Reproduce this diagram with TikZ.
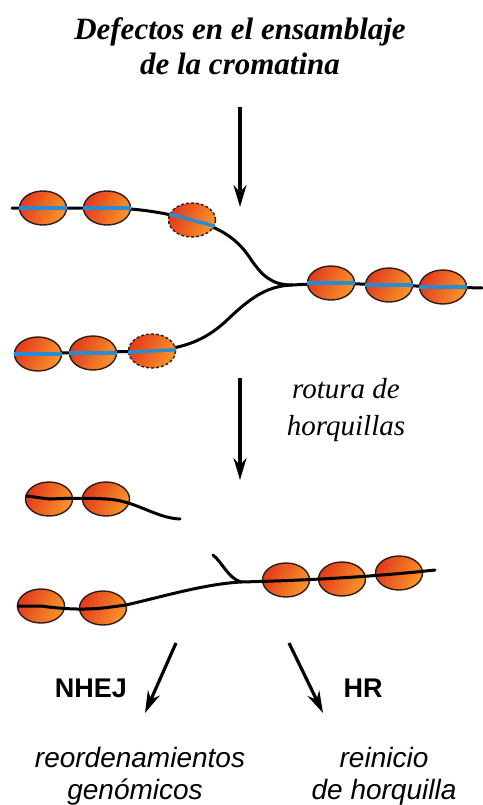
\documentclass[tikz,border=0pt]{standalone}
\usepackage{fontspec}
\setmainfont{Liberation Serif}
\setsansfont{Liberation Sans}
\usetikzlibrary{shapes.geometric,arrows.meta}

\definecolor{nucred}{RGB}{228,58,28}
\definecolor{nucorange}{RGB}{247,150,42}
\definecolor{dnablue}{RGB}{38,140,212}
\definecolor{nucedge}{RGB}{50,28,18}

\pgfdeclarelayer{strands}
\pgfsetlayers{strands,main}

\tikzset{
  nuc/.style={ellipse, draw=nucedge, line width=1.4pt, inner sep=0pt,
    minimum width=47pt, minimum height=34pt,
    left color=nucred, right color=nucorange, shading angle=65},
  nucdash/.style={nuc, dash pattern=on 3pt off 2pt},
  strand/.style={line width=3pt, black, line cap=round},
  dna/.style={line width=3.4pt, dnablue},
  flow/.style={line width=3.2pt, -{Stealth[length=22pt,width=13pt]}},
  titletext/.style={font=\fontsize{31}{36}\selectfont\bfseries\itshape, anchor=base},
  steptext/.style={font=\fontsize{29}{34}\selectfont\itshape, anchor=base},
  pathtext/.style={font=\fontsize{27}{30}\selectfont\sffamily\bfseries, anchor=base},
  outtext/.style={font=\fontsize{28}{34}\selectfont\sffamily\itshape, anchor=base},
}

\begin{document}
\begin{tikzpicture}[x=1pt,y=-1pt]
\useasboundingbox (0,0) rectangle (482,805);

% heading
\node[titletext] (t1) at (240,40) {Defectos en el ensamblaje};
\node[titletext] (t2) at (240,75) {de la cromatina};

% first step arrow
\coordinate (a1s) at (240,107);
\coordinate (a1e) at (240,207);
\draw[flow] (a1s) -- (a1e);

% ---- replication fork ----
\node[nuc]     (u1) at (43,208) {};
\node[nuc]     (u2) at (107,208) {};
\node[nucdash] (u3) at (192,220) {};
\node[nuc]     (l1) at (38,354) {};
\node[nuc]     (l2) at (93,353) {};
\node[nucdash] (l3) at (152,351) {};
\node[nuc]     (r1) at (331,283) {};
\node[nuc]     (r2) at (389,285) {};
\node[nuc]     (r3) at (443,287) {};

\coordinate (uL) at (12,208);
\coordinate (lL) at (15,354);
\coordinate (fork) at (292,285);
\coordinate (rR) at (482,288);

\begin{pgfonlayer}{strands}
  \draw[strand] (uL) -- (u2.center)
    .. controls (140,208) and (170,214) .. (u3.center)
    .. controls (222,228) and (238,240) .. (250,258)
    .. controls (262,276) and (272,285) .. (fork);
  \draw[strand] (lL) -- (l3.center)
    .. controls (185,348) and (205,340) .. (225,322)
    .. controls (248,300) and (265,286) .. (fork);
  \draw[strand] (fork) -- (r1.center) -- (r2.center) -- (r3.center) -- (rR);
\end{pgfonlayer}

\foreach \n in {u1,u2,l1,l2,r1,r2,r3}
  \draw[dna] (\n.west) -- (\n.east);
\draw[dna] (u3.165) -- (u3.-15);
\draw[dna] (l3.183) -- (l3.3);

% second step arrow and label
\coordinate (a2s) at (240,378);
\coordinate (a2e) at (240,480);
\draw[flow] (a2s) -- (a2e);
\node[steptext] (s1) at (346,398) {rotura de};
\node[steptext] (s2) at (346,435) {horquillas};

% ---- broken fork ----
\node[nuc] (b1) at (49,499) {};
\node[nuc] (b2) at (106,499) {};
\coordinate (bL) at (27,496);
\coordinate (bEnd) at (180,519);
\draw[strand] (bL) -- (b1.center) .. controls (75,498) and (90,498) .. (b2.center)
  .. controls (135,500) and (155,518) .. (bEnd);

\node[nuc] (c1) at (41,606) {};
\node[nuc] (c2) at (103,608) {};
\node[nuc] (c3) at (286,580) {};
\node[nuc] (c4) at (342,579) {};
\node[nuc] (c5) at (399,573) {};
\coordinate (cL) at (18,606);
\coordinate (bj) at (241,582);
\coordinate (cR) at (435,570);
\coordinate (flap) at (213,555);
\draw[strand] (cL) -- (c1.center) .. controls (62,609) and (82,610) .. (c2.center)
  .. controls (112,607) and (118,606) .. (126,605)
  .. controls (165,596) and (205,584) .. (bj)
  .. controls (320,580) and (380,576) .. (cR);
\draw[strand] (flap) .. controls (222,562) and (228,578) .. (bj);

% repair pathways
\coordinate (n1) at (176,643);
\coordinate (n2) at (145,713);
\coordinate (h1) at (289,643);
\coordinate (h2) at (323,713);
\draw[flow] (n1) -- (n2);
\draw[flow] (h1) -- (h2);
\node[pathtext] (nhej) at (91,697) {NHEJ};
\node[pathtext] (hr) at (363,697) {HR};

\node[outtext] (o1) at (140,767) {reordenamientos};
\node[outtext] (o2) at (135,799) {genómicos};
\node[outtext] (o3) at (384,767) {reinicio};
\node[outtext] (o4) at (384,799) {de horquilla};
\end{tikzpicture}
\end{document}
